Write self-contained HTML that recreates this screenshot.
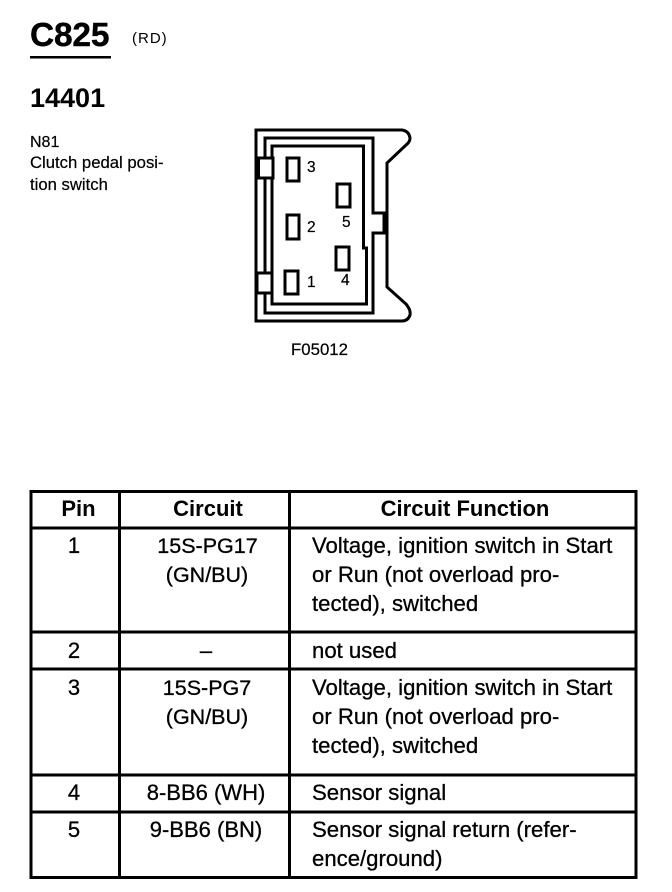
<!DOCTYPE html>
<html>
<head>
<meta charset="utf-8">
<style>
html,body{margin:0;padding:0;background:#fff;}
svg{display:block;}
text{font-family:"Liberation Sans",sans-serif;fill:#000;}
.b{font-size:22px;stroke:#000;stroke-width:.3px;}
.n{font-size:21.500px;}
.w{font-size:22.150px;}
.h{font-size:22px;font-weight:bold;}
</style>
</head>
<body>
<svg width="672" height="892" viewBox="0 0 672 892" xmlns="http://www.w3.org/2000/svg">
<rect width="672" height="892" fill="#fff"/>

<text x="30" y="46" font-size="33.500" font-weight="bold" stroke="#000" stroke-width=".4" letter-spacing="-.2">C825</text>
<rect x="30" y="56" width="81" height="2.500" fill="#000"/>
<text x="132" y="43" font-size="15" letter-spacing="1">(RD)</text>
<text x="30" y="107" font-size="27" font-weight="bold">14401</text>
<text x="30" y="147" font-size="16" stroke="#000" stroke-width=".2">N81</text>
<text x="30" y="168" font-size="16.700" stroke="#000" stroke-width=".2">Clutch pedal posi-</text>
<text x="30" y="190" font-size="16.700" stroke="#000" stroke-width=".2">tion switch</text>

<g fill="none" stroke="#000" stroke-width="3">
<path d="M256 130 H402 Q409 131 410 138 Q410 142 406 145 L387 163 V287 L406 304 Q411 310 410 315 Q408 321 402 321 H256 Z" />
<path d="M265 138 H373 V213 H384 V233 H373 V313 H265 Z" />
<path d="M272 146 H363.500 V248 H366.500 V304 H272 Z" />
<rect x="287" y="158" width="12" height="23"/>
<rect x="287" y="215" width="12" height="24"/>
<rect x="285" y="271" width="13" height="23"/>
<rect x="337" y="184" width="13" height="23"/>
<rect x="336" y="247" width="13" height="23"/>
<rect x="258.500" y="158" width="14.500" height="20" fill="#fff"/>
<rect x="257" y="273" width="15" height="20" fill="#fff"/>
</g>
<g font-size="15.500" stroke="#000" stroke-width=".2">
<text x="307" y="172">3</text>
<text x="307" y="232">2</text>
<text x="307" y="287">1</text>
<text x="342" y="227">5</text>
<text x="341" y="285">4</text>
</g>
<text x="291" y="355" font-size="16.800" stroke="#000" stroke-width=".2" textLength="57">F05012</text>

<g fill="none" stroke="#000" stroke-width="3">
<rect x="31" y="491.500" width="605" height="386"/>
<path d="M31 528H636M31 632H636M31 669H636M31 775H636M31 812H636"/>
<path d="M119.500 491V877M289.500 491V877"/>
</g>

<g class="h" text-anchor="middle">
<text x="78.500" y="516">Pin</text>
<text x="208" y="516">Circuit</text>
<text x="465" y="516">Circuit Function</text>
</g>

<g class="b" text-anchor="middle">
<text x="74" y="553">1</text>
<text x="74" y="658">2</text>
<text x="74" y="695">3</text>
<text x="74" y="800">4</text>
<text x="74" y="837">5</text>
<text class="n" x="207.500" y="553">15S-PG17</text>
<text class="n" x="207" y="582">(GN/BU)</text>
<text x="206" y="658">–</text>
<text class="n" x="207" y="695">15S-PG7</text>
<text class="n" x="207" y="724">(GN/BU)</text>
<text x="206" y="800">8-BB6 (WH)</text>
<text x="206" y="837">9-BB6 (BN)</text>
</g>

<g class="b">
<text class="w" x="312" y="553">Voltage, ignition switch in Start</text>
<text class="w" x="312" y="582">or Run (not overload pro-</text>
<text class="w" x="312" y="611">tected), switched</text>
<text class="w" x="312" y="658">not used</text>
<text class="w" x="312" y="695">Voltage, ignition switch in Start</text>
<text class="w" x="312" y="724">or Run (not overload pro-</text>
<text class="w" x="312" y="753">tected), switched</text>
<text class="w" x="312" y="800">Sensor signal</text>
<text class="w" x="312" y="837">Sensor signal return (refer-</text>
<text class="w" x="312" y="866">ence/ground)</text>
</g>
</svg>
</body>
</html>
